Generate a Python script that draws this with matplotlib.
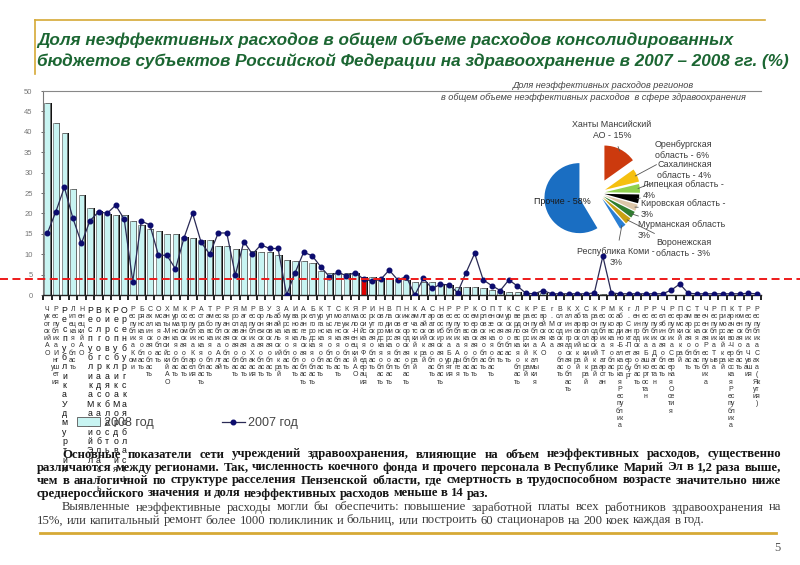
import matplotlib
matplotlib.use("Agg")
import matplotlib.pyplot as plt
import numpy as np
from matplotlib.patches import Patch
from matplotlib.lines import Line2D

plt.rcParams['font.family'] = ['Liberation Sans', 'DejaVu Sans']

# ---------------- data ----------------
regions = [
    "Чукотский АО", "Республика Ингушетия", "Республика Удмуртия", "Липецкая область",
    "Ненецкий АО", "Республика Марий Эл", "Волгоградская область", "Кировская область",
    "Республика Мордовия", "Оренбургская область", "Республика Коми", "Брянская область",
    "Сахалинская область", "Омская область", "Ханты-Мансийский АО", "Мурманская область",
    "Костромская область", "Республика Карелия", "Астраханская область", "Тамбовская область",
    "Республика Алтай", "Рязанская область", "Ярославская область", "Магаданская область",
    "Республика Хакасия", "Воронежская область", "Ульяновская область", "Забайкальский край",
    "Амурская область", "Ивановская область", "Архангельская область", "Белгородская область",
    "Курганская область", "Тульская область", "Смоленская область", "Калужская область",
    "Ямало-Ненецкий АО", "Российская Федерация", "Иркутская область", "Новгородская область",
    "Владимирская область", "Псковская область", "Нижегородская область", "Камчатский край",
    "Алтайский край", "Саратовская область", "Новосибирская область", "Республика Бурятия",
    "Республика Адыгея", "Ростовская область", "Кемеровская область", "Орловская область",
    "Пензенская область", "Томская область", "Курская область", "Свердловская область",
    "Красноярский край", "Республика Калмыкия", "Еврейская АО", "г. Москва",
    "Вологодская область", "Калининградская область", "Хабаровский край", "Ставропольский край",
    "Краснодарский край", "Республика Татарстан", "Московская область", "Кабардино-Балкарская Республика",
    "г. Санкт-Петербург", "Ленинградская область", "Республика Башкортостан", "Республика Дагестан",
    "Челябинская область", "Республика Северная Осетия", "Пермский край", "Самарская область",
    "Тверская область", "Чеченская Республика", "Республика Тыва", "Приморский край",
    "Карачаево-Черкесская Республика", "Тюменская область", "Республика Чувашия", "Республика Саха (Якутия)",
]

share_2008 = [
    47.1, 42.2, 39.6, 26.0, 24.5, 21.3, 20.7, 19.9, 19.6, 19.6,
    18.2, 17.1, 16.1, 15.7, 15.0, 14.9, 14.1, 13.9, 13.6, 13.6,
    12.0, 12.0, 11.3, 11.3, 10.8, 10.6, 10.6, 9.7, 8.7, 8.3,
    8.3, 7.8, 5.9, 5.5, 5.3, 5.5, 5.3, 4.3, 4.3, 4.1,
    4.1, 3.8, 3.7, 3.3, 3.3, 3.1, 2.7, 2.5, 2.0, 1.9,
    1.9, 1.6, 1.2, 1.1, 0.7, 0.7, 0.5, 0.4, 0.4, 0.3,
    0.3, 0.3, 0.3, 0.2, 0.2, 0.2, 0.2, 0.2, 0.2, 0.2,
    0.2, 0.1, 0.1, 0.1, 0.1, 0.1, 0.1, 0.1, 0.1, 0.1,
    0.1, 0.1, 0.1, 0.1,
]

share_2007 = [
    15.1, 20.4, 26.4, 18.8, 12.7, 18.2, 20.4, 20.0, 22.0, 18.6,
    3.3, 18.1, 17.2, 9.8, 9.7, 6.4, 14.0, 20.0, 12.9, 10.0,
    15.2, 15.2, 4.9, 13.1, 10.0, 12.3, 11.4, 11.4, 0.0, 5.5,
    10.5, 9.6, 6.9, 4.5, 5.6, 4.7, 5.5, 3.9, 3.4, 3.8,
    6.1, 3.7, 4.5, 0.0, 4.1, 1.6, 2.6, 2.5, 0.6, 5.5,
    10.2, 3.7, 2.3, 1.1, 3.7, 2.2, 0.4, 0.3, 1.1, 0.3,
    0.3, 0.3, 0.3, 0.3, 0.5, 9.5, 0.5, 0.3, 0.3, 0.3,
    0.3, 0.3, 0.3, 1.2, 2.7, 0.4, 0.3, 0.3, 0.3, 0.3,
    0.3, 0.3, 0.4, 0.3,
]

highlight_region = "Российская Федерация"
avg_level = 3.8
big_label_idx = [2, 5, 6, 7, 8, 9]

series_labels = ["2008 год", "2007 год"]

pie_labels = ["Ханты Мансийский\nАО - 15%", "Оренбургская\nобласть - 6%", "Сахалинская\nобласть - 4%",
              "Липецкая область -\n4%", "Кировская область -\n3%", "Мурманская область\n3%",
              "Воронежская\nобласть - 3%", "Республика Коми -\n3%", "Прочие - 58%"]
pie_values = [15, 6, 4, 4, 3, 3, 3, 3, 58]
pie_colors = ["#cc3a0e", "#f5c00f", "#8fd14f", "#000000", "#dcc6a8", "#2f7d2f", "#c9a012", "#2a7fd4", "#1a6ec2"]

title_lines = ["Доля неэффективных расходов в общем объеме расходов консолидированных",
               "бюджетов субъектов Российской Федерации на здравоохранение в 2007 – 2008 гг. (%)"]
pie_title = ["Доля неэффективных расходов регионов",
             "в общем объеме неэффективных расходов  в сфере здравоохранения"]

para1 = ["Основные показатели сети учреждений здравоохранения, влияющие на объем неэффективных расходов, существенно",
         "различаются между регионами. Так, численность коечного фонда и прочего персонала в Республике Марий Эл в 1,2 раза выше,",
         "чем в аналогичной по структуре расселения Пензенской области, где смертность в трудоспособном возрасте значительно ниже",
         "среднероссийского значения и доля неэффективных расходов меньше в 14 раз."]
para2 = ["Выявленные неэффективные расходы могли бы обеспечить: повышение заработной платы  всех работников здравоохранения на",
         "15%, или капитальный ремонт более 1000 поликлиник и больниц, или построить 60 стационаров на 200 коек каждая в год."]
page_no = "5"

# ---------------- figure ----------------
W, H = 800, 565
fig = plt.figure(figsize=(8, 5.65), dpi=100)
fig.patch.set_facecolor("white")


def fx(px):
    return px / W


def fy(py):
    return 1 - py / H


GOLD = "#d6a936"
fig.add_artist(Line2D([fx(35), fx(765)], [fy(20), fy(20)], color=GOLD, lw=1.2))
fig.add_artist(Line2D([fx(35), fx(35)], [fy(20), fy(74)], color=GOLD, lw=1.2))
fig.add_artist(Line2D([fx(40), fx(776)], [fy(533), fy(533)], color=GOLD, lw=2.0))

for i, t in enumerate(title_lines):
    fig.text(fx(37), fy(40 + 21 * i), t, fontsize=12.3, fontweight="bold", fontstyle="italic",
             color="#1b6632", va="center", ha="left")

# ---------------- bar + line chart ----------------
L, R, T, B = 43, 761, 91, 295
ax = fig.add_axes([fx(L), fy(B), fx(R) - fx(L), fy(T) - fy(B)])
x = np.arange(len(regions))
bar_colors = ["#e00000" if r == highlight_region else "#c8f4f2" for r in regions]
ax.bar(x + 0.2, share_2008, width=0.66, color="#111111", zorder=1)
ax.bar(x, share_2008, width=0.66, color=bar_colors, edgecolor="#6a6a6a", linewidth=0.5, zorder=2)
ax.plot(x, share_2007, color="#2a2a55", lw=0.9, marker="o", ms=3.3,
        mfc="#0c0c6e", mec="#0c0c6e", zorder=3)
ax.axhline(avg_level, xmin=-L / (R - L), xmax=(W - L) / (R - L), color="#ee1a1a", lw=1.4,
           ls=(0, (4.1, 2.3)), clip_on=False, zorder=4)

ax.set_xlim(-0.5, len(regions) - 0.5)
ax.set_ylim(0, 50)
ax.set_yticks(np.arange(0, 51, 5))
ax.tick_params(axis="y", labelsize=5.5, labelcolor="#777777", length=3, width=0.6,
               direction="inout", color="#555555", pad=6)
ax.spines["right"].set_visible(False)
ax.spines["top"].set_color("#888888")
ax.spines["top"].set_linewidth(0.8)
ax.spines["left"].set_color("#777777")
ax.spines["left"].set_linewidth(0.8)
ax.spines["bottom"].set_color("#222222")
ax.spines["bottom"].set_linewidth(1.0)


def wrap_label(name, big):
    if big:
        return "\n".join(ch for ch in name if ch != " ")
    lines = []
    for w in name.split():
        if w.isupper() and len(w) <= 3:
            lines.extend(list(w))
        else:
            lines.append(w[0])
            rest = w[1:]
            lines += [rest[k:k + 2] for k in range(0, len(rest), 2)]
    return "\n".join(lines)


labels = [wrap_label(r, i in big_label_idx) for i, r in enumerate(regions)]
ax.set_xticks(x, labels=labels)
ax.set_xticks(np.arange(len(regions) + 1) - 0.5, minor=True)
ax.tick_params(axis="x", which="major", length=0, pad=8, labelsize=5, labelcolor="#333333")
ax.tick_params(axis="x", which="minor", length=3.5, width=1.3, color="#111111", direction="out")
for i, tl in enumerate(ax.get_xticklabels()):
    tl.set_linespacing(1.05)
    if i in big_label_idx:
        tl.set_fontsize(6.3)
        tl.set_color("#111111")

handles = [Patch(facecolor="#c8f4f2", edgecolor="#555555", linewidth=0.6),
           Line2D([], [], color="#2a2a55", lw=0.9, marker="o", ms=3.3, mfc="#0c0c6e", mec="#0c0c6e")]
fig.legend(handles, series_labels, loc="center left", bbox_to_anchor=(fx(66), fy(423)), ncol=2,
           frameon=False, fontsize=9, columnspacing=5.5, handlelength=1.8, handletextpad=0.3,
           labelcolor="#444444")

# ---------------- pie inset ----------------
fig.text(fx(603), fy(85), pie_title[0], ha="center", va="center", fontsize=6.6,
         fontstyle="italic", color="#444444")
fig.text(fx(746), fy(97), pie_title[1], ha="right", va="center", fontsize=6.6,
         fontstyle="italic", color="#444444")

pc = (598, 193)
half = 56           # px half-size of inset
lim = 1.6           # data half-range -> radius 1 = 35 px
pax = fig.add_axes([fx(pc[0] - half), fy(pc[1] + half), 2 * half / W, 2 * half / H])
explode = [0.4, 0.22, 0.2, 0.18, 0.18, 0.18, 0.18, 0.2, 0.55]
wedges, _ = pax.pie(pie_values, colors=pie_colors, startangle=90, counterclock=False,
                    explode=explode, radius=1.0, wedgeprops=dict(linewidth=0))
pax.set_xlim(-lim, lim)
pax.set_ylim(-lim, lim)
pax.set_aspect("auto")
pax.axis("off")

label_pos = [(612, 130, "center"), (655, 150, "left"), (657, 170, "left"), (643, 190, "left"),
             (641, 209, "left"), (638, 230, "left"), (656, 248, "left"), (616, 257, "center")]
n_small = len(pie_values) - 1
for w, lab, (lx, ly, ha) in zip(wedges[:n_small], pie_labels[:n_small], label_pos):
    th = np.deg2rad((w.theta1 + w.theta2) / 2)
    cx, cy = w.center
    xy = (cx + w.r * 0.95 * np.cos(th), cy + w.r * 0.95 * np.sin(th))
    pax.annotate(lab, xy=xy, xytext=(lx, H - ly), textcoords="figure pixels",
                 ha=ha, va="center", fontsize=6.4, color="#3a3a3a", linespacing=1.25,
                 arrowprops=dict(arrowstyle="-", color="#555555", lw=0.6, shrinkA=3, shrinkB=0),
                 annotation_clip=False)
fig.text(fx(562), fy(202), pie_labels[-1], ha="center", va="center", fontsize=6.4, color="#1a1a1a")

# ---------------- paragraphs (justified) ----------------
renderer = fig.canvas.get_renderer()


def place_line(text, x0, x1, y, justify, **kw):
    words = text.split()
    objs = [fig.text(0, fy(y), w, va="center_baseline", ha="left", **kw) for w in words]
    widths = [o.get_window_extent(renderer).width for o in objs]
    probe_a = fig.text(0, 0, "о о", **kw)
    probe_b = fig.text(0, 0, "оо", **kw)
    space = probe_a.get_window_extent(renderer).width - probe_b.get_window_extent(renderer).width
    probe_a.remove()
    probe_b.remove()
    if justify and len(words) > 1:
        gap = (x1 - x0 - sum(widths)) / (len(words) - 1)
    else:
        gap = space
    cur = x0
    for o, wd in zip(objs, widths):
        o.set_x(fx(cur))
        cur += wd + gap


p1_kw = dict(fontsize=9.2, fontweight="bold", family="Liberation Serif", color="#151515")
p2_kw = dict(fontsize=9.2, family="Liberation Serif", color="#3a3a3a")
ys = [453, 466, 479, 492]
for k, line in enumerate(para1):
    x0 = 62 if k == 0 else 37
    place_line(line, x0, 781, ys[k], justify=(k < len(para1) - 1), **p1_kw)
for k, line in enumerate(para2):
    x0 = 62 if k == 0 else 37
    place_line(line, x0, 781, 506 + 13 * k, justify=(k < len(para2) - 1), **p2_kw)

fig.text(fx(777), fy(548), page_no, ha="center", va="center", fontsize=9,
         family="Liberation Serif", color="#555555")

fig.savefig("out.png", dpi=100)
